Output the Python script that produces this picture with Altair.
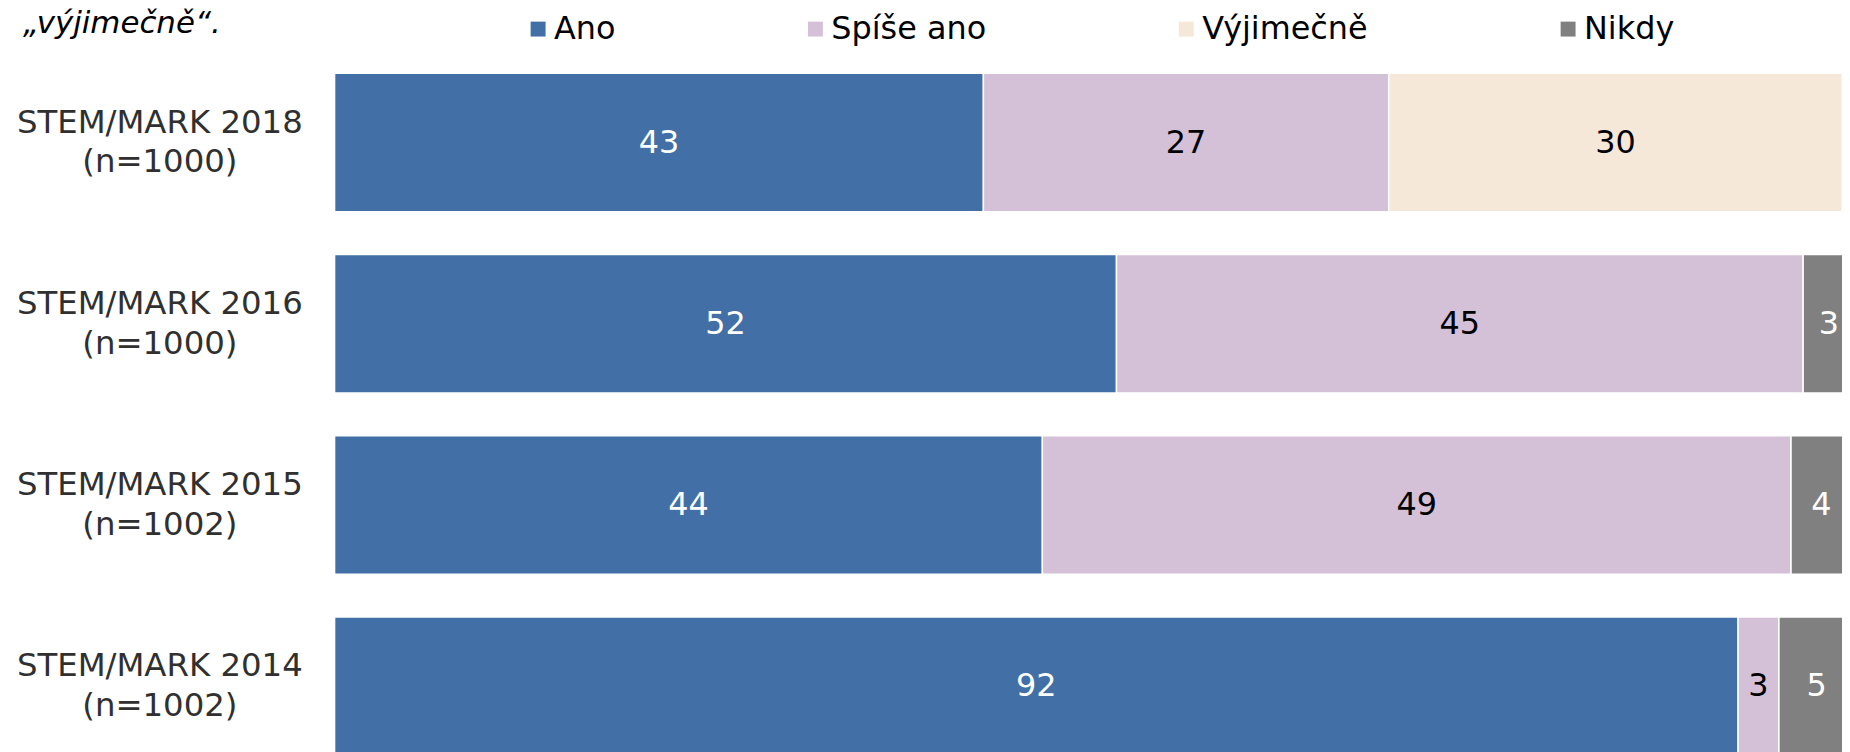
import altair as alt
import pandas as pd

# ---- data ----
surveys = ["STEM/MARK 2018|(n=1000)", "STEM/MARK 2016|(n=1000)",
           "STEM/MARK 2015|(n=1002)", "STEM/MARK 2014|(n=1002)"]
categories = ["Ano", "Spíše ano", "Výjimečně", "Nikdy"]
colors = ["#416FA6", "#D4C1D8", "#F5E8D9", "#808080"]
text_colors = ["white", "black", "black", "white"]

# bar lengths as drawn
ano = [42.9, 51.7, 46.8, 92.8]
spise_ano = [26.8, 45.4, 49.5, 2.7]
vyjimecne = [30.0, 0, 0, 0]
nikdy = [1.0, 3.4, 4.0, 5.0]

# printed labels
ano_lbl = ["43", "52", "44", "92"]
spise_lbl = ["27", "45", "49", "3"]
vyj_lbl = ["30", "", "", ""]
nikdy_lbl = ["1", "3", "4", "5"]

title_text = "„výjimečně“."

values = [ano, spise_ano, vyjimecne, nikdy]
labels = [ano_lbl, spise_lbl, vyj_lbl, nikdy_lbl]

rows = []
for i, s in enumerate(surveys):
    for j, c in enumerate(categories):
        v = values[j][i]
        if v > 0:
            rows.append({"survey": s, "category": c, "order": j, "value": v,
                         "label": labels[j][i], "tcolor": text_colors[j]})
df = pd.DataFrame(rows)

FONT = "DejaVu Sans"
PX_PER_UNIT = 15.19
W = 1514
H = 728
D = W / PX_PER_UNIT

base = alt.Chart(df).transform_stack(
    stack="value", groupby=["survey"], as_=["x0", "x1"],
    sort=[alt.SortField("order", order="ascending")]
).transform_calculate(mid="(datum.x0 + datum.x1) / 2")

yenc = alt.Y(
    "survey:N", sort=surveys,
    scale=alt.Scale(paddingInner=0.236, paddingOuter=0.118),
    axis=alt.Axis(title=None, labelExpr="split(datum.label, '|')",
                  labelAlign="center", labelBaseline="middle", labelPadding=176,
                  labelOffset=-20,
                  ticks=False, tickSize=0, domain=False, labelFontSize=32.5,
                  labelFont=FONT, labelColor="#303030", labelLineHeight=40,
                  labelLimit=0),
)
xscale = alt.Scale(domain=[0, D], nice=False, zero=True)

bars = base.mark_bar(stroke="white", strokeWidth=1.5).encode(
    y=yenc,
    x=alt.X("x0:Q", scale=xscale, axis=None),
    x2="x1:Q",
    color=alt.Color(
        "category:N",
        scale=alt.Scale(domain=categories, range=colors),
        legend=alt.Legend(
            orient="none", legendX=188.4, legendY=-39, direction="horizontal",
            title=None, symbolType="square", symbolSize=225,
            symbolStrokeWidth=0, symbolOpacity=1, labelFontSize=32,
            labelFont=FONT, labelColor="black", labelOffset=0,
            columnPadding=184.5, padding=0, symbolOffset=0, labelLimit=0,
        ),
    ),
)

texts = base.mark_text(font=FONT, fontSize=32, baseline="middle", align="center").encode(
    y=alt.Y("survey:N", sort=surveys),
    x=alt.X("mid:Q", scale=xscale, axis=None),
    text="label:N",
    color=alt.Color("tcolor:N", scale=None),
)

title = alt.Chart(pd.DataFrame({"t": [title_text]})).mark_text(
    align="left", baseline="alphabetic", fontStyle="italic", fontSize=31,
    font=FONT, color="black"
).encode(x=alt.value(-313), y=alt.value(-19), text="t:N")

chart = alt.layer(bars, texts, title).properties(
    width=W, height=H,
    autosize=alt.AutoSizeParams(type="none"),
    padding={"left": 328, "top": 42.5, "right": 0, "bottom": 0},
).configure_view(stroke=None)

chart.save("out.html", embed_options={"renderer": "svg", "actions": False})
